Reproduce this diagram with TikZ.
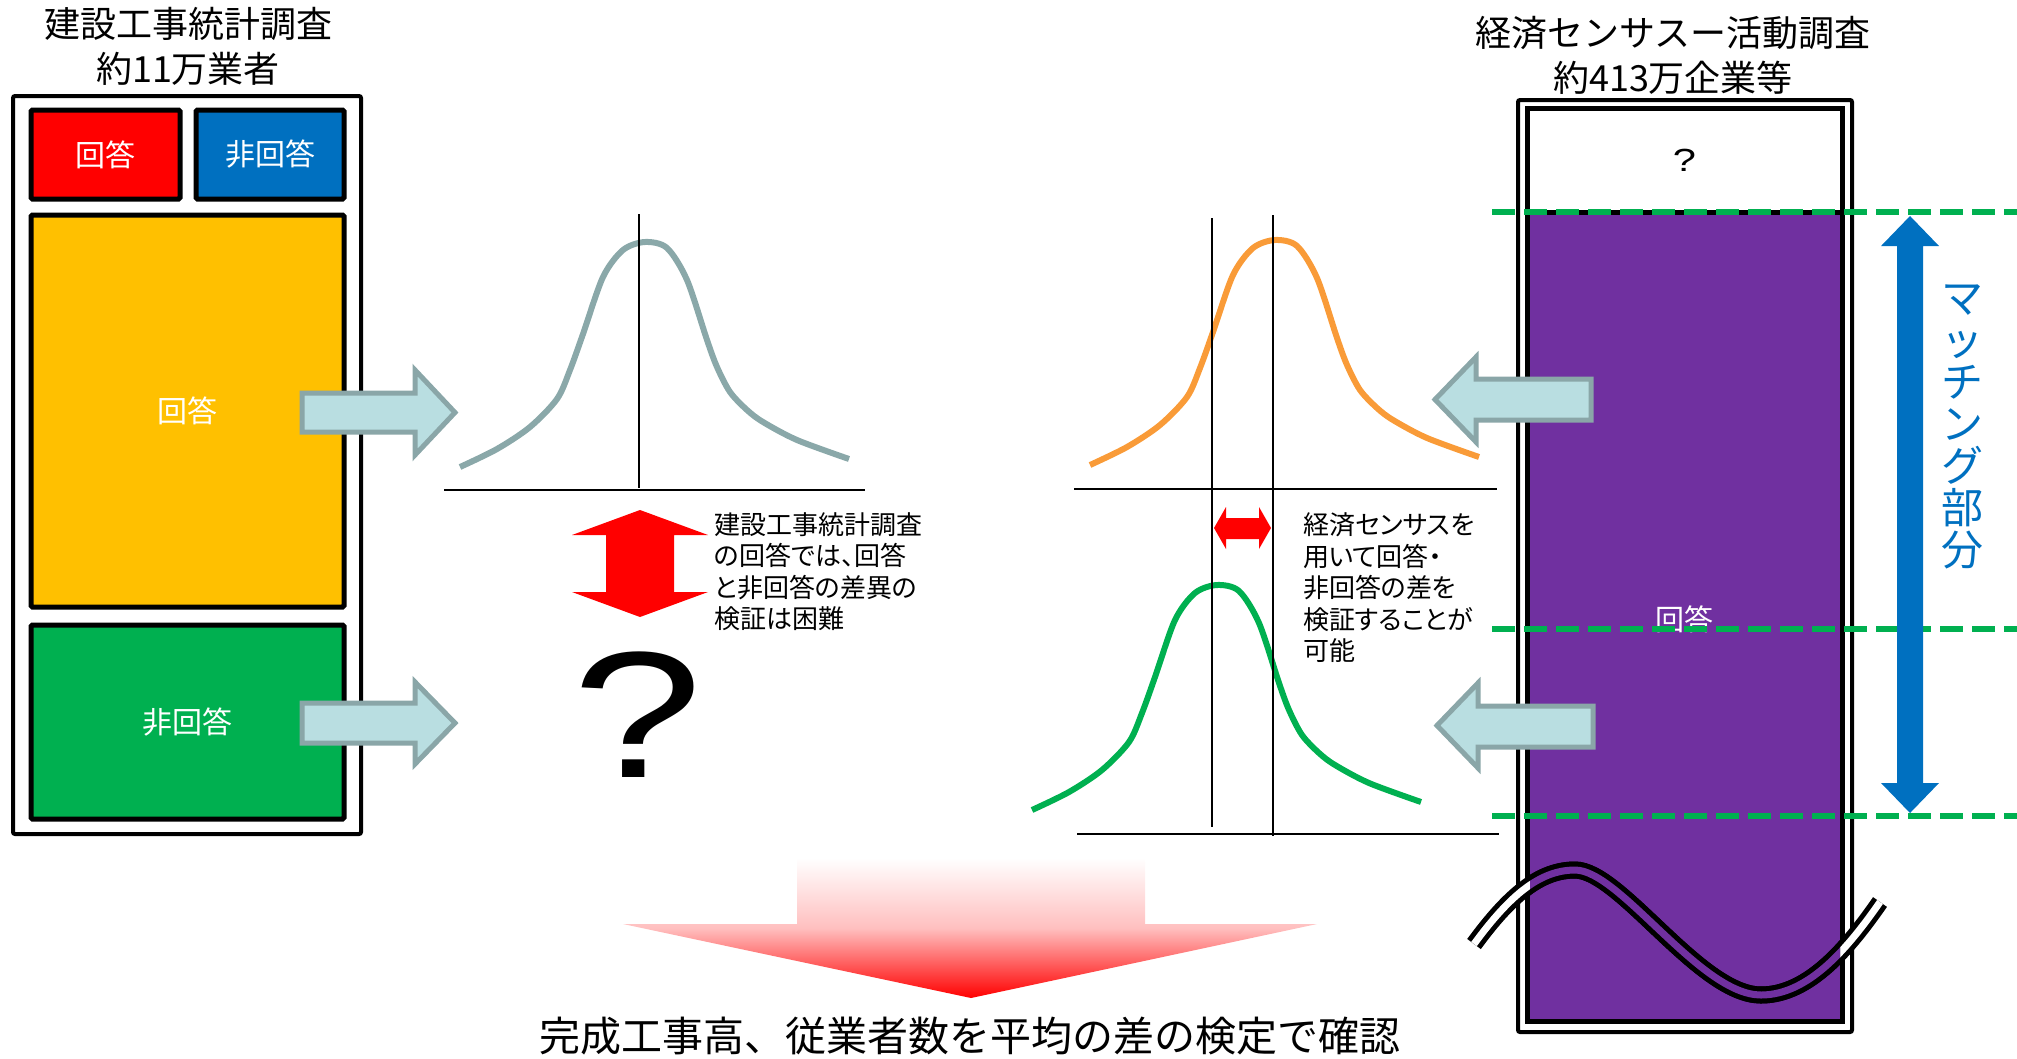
\documentclass[tikz,border=0pt]{standalone}
\usepackage{fontspec}
\setmainfont{Noto Sans CJK JP}
\newfontfamily\jpp[RawFeature={+palt}]{Noto Sans CJK JP}
\newfontfamily\lsans{Liberation Sans}
\definecolor{cred}{HTML}{FF0000}
\definecolor{cblue}{HTML}{0070C0}
\definecolor{cyellow}{HTML}{FFC000}
\definecolor{cgreen}{HTML}{00B050}
\definecolor{cpurple}{HTML}{7030A0}
\definecolor{afill}{HTML}{B9DEE1}
\definecolor{aline}{HTML}{8AA6A8}
\definecolor{corange}{HTML}{F99B38}
\definecolor{cgray}{HTML}{8AA8A9}
\tikzset{
  box/.style={draw=black, line width=5pt, rounded corners=1.5pt, text=white,
    font=\fontsize{30}{36}\selectfont, inner sep=0pt},
  larrow/.style={fill=afill, draw=aline, line width=5pt},
  axisline/.style={line width=2.5pt},
  gdash/.style={draw=cgreen, line width=6pt, dash pattern=on 23pt off 9pt},
  midtext/.style={anchor=west, align=left, inner sep=0pt, font=\jpp\fontsize{26}{31.5}\selectfont},
  title/.style={align=center, inner sep=0pt, font=\fontsize{36}{45}\selectfont},
  pics/bell/.style={code={\draw[line width=6pt,#1] plot[smooth,tension=0.5] coordinates
    {(-185,225) (-148,207) (-115,185) (-88,157) (-75,128) (-62,92) (-42,35) (-22,8) (0,0)
     (22,6) (42,38) (62,98) (72,125) (85,150) (102,168) (118,180) (152,198) (204,217)};}}
}
\begin{document}
\begin{tikzpicture}[x=1pt,y=-1pt]
\useasboundingbox (0,0) rectangle (2017,1058);

% ---------- left: construction survey ----------
\node[title] (ltitle) at (188,46) {建設工事統計調査\\約11万業者};
\draw[line width=4pt, rounded corners=2pt] (13,96) rectangle (361,834);
\node[box, fill=cred, minimum width=149pt, minimum height=89pt] (rresp) at (105.5,154.5) {回答};
\node[box, fill=cblue, minimum width=148pt, minimum height=89pt] (rnon) at (270,154.5) {非回答};
\node[box, fill=cyellow, minimum width=313pt, minimum height=392pt] (yresp) at (187.5,411) {回答};
\node[box, fill=cgreen, minimum width=313pt, minimum height=194pt] (gnon) at (187.5,722) {非回答};

\draw[larrow] (302,393) -- (415,393) -- (415,370) -- (455,412.5) -- (415,455) -- (415,432) -- (302,432) -- cycle;
\draw[larrow] (302,703) -- (415,703) -- (415,682) -- (455,723) -- (415,764) -- (415,743) -- (302,743) -- cycle;

% gray distribution
\pic at (645,242) {bell=cgray};
\draw[axisline] (444,490) -- (865,490);
\draw[line width=2pt] (639,214) -- (639,488);

% red vertical double arrow
\fill[cred] (640,510) -- (708,535) -- (674,535) -- (674,592) -- (708,592) -- (640,617)
  -- (572,592) -- (606,592) -- (606,535) -- (572,535) -- cycle;
\node[midtext] (ctext) at (714,571.5) {建設工事統計調査\\の回答では、回答\\と非回答の差異の\\検証は困難};
\node[inner sep=0pt, font=\lsans\fontsize{180}{180}\selectfont] (qm) at (638,715) {\scalebox{1.3}[1]{?}};

% ---------- middle right: census distributions ----------
\pic at (1275,240) {bell=corange};
\pic at (1217,585) {bell=cgreen};
\draw[axisline] (1074,489) -- (1497,489);
\draw[axisline] (1077,834) -- (1499,834);
\draw[line width=1.5pt] (1212,218) -- (1212,827);
\draw[line width=2pt] (1273,215) -- (1273,836);
\fill[cred] (1214,528) -- (1226,507) -- (1226,518) -- (1259,518) -- (1259,507) -- (1271,528)
  -- (1259,549) -- (1259,539) -- (1226,539) -- (1226,549) -- cycle;
\node[midtext] (etext) at (1303,588) {経済センサスを\\用いて回答・\\非回答の差を\\検証することが\\可能};

% ---------- right: economic census ----------
\node[title] (rtitle) at (1673,55) {経済センサスー活動調査\\約413万企業等};
\draw[line width=4pt, rounded corners=2pt] (1518,100) rectangle (1852,1032);
\node[draw=black, line width=5pt, fill=white, minimum width=315pt, minimum height=104pt, inner sep=0pt,
  font=\lsans\fontsize{32}{36}\selectfont] (qbox) at (1684.5,160) {\scalebox{1.3}[1]{?}};
\node[box, fill=cpurple, minimum width=315pt, minimum height=809pt, rounded corners=0pt] (pbox) at (1684.5,616.5) {};
\node[text=white, inner sep=0pt, font=\fontsize{29}{34}\selectfont] (plabel) at (1684,619) {回答};

\draw[gdash] (1492,212) -- (2017,212);
\draw[gdash] (1492,629) -- (2017,629);
\draw[gdash] (1492,816) -- (2017,816);

% wavy break mark
\draw[line width=5pt, double=white, double distance=7pt]
  (1474,944) .. controls (1510,895) and (1540,870) .. (1575,870)
  .. controls (1620,870) and (1700,995) .. (1761,995)
  .. controls (1810,995) and (1850,945) .. (1880,902);
\begin{scope}
  \clip (1530,214) rectangle (1840,1019);
  \draw[line width=5pt, double=cpurple, double distance=7pt]
    (1474,944) .. controls (1510,895) and (1540,870) .. (1575,870)
    .. controls (1620,870) and (1700,995) .. (1761,995)
    .. controls (1810,995) and (1850,945) .. (1880,902);
\end{scope}

\draw[larrow] (1591,379) -- (1476,379) -- (1476,357) -- (1435,399.5) -- (1476,442) -- (1476,420) -- (1591,420) -- cycle;
\draw[larrow] (1593,706) -- (1478,706) -- (1478,683) -- (1437,725.5) -- (1478,768) -- (1478,747) -- (1593,747) -- cycle;

% blue matching arrow
\fill[cblue] (1910,216) -- (1939,246) -- (1923,246) -- (1923,783) -- (1939,783) -- (1910,813)
  -- (1881,783) -- (1897,783) -- (1897,246) -- (1881,246) -- cycle;
\node[text=cblue, align=center, inner sep=0pt, font=\fontsize{42}{42}\selectfont] (match) at (1962,427)
  {マ\\ッ\\チ\\ン\\グ\\部\\分};

% ---------- bottom gradient arrow ----------
\shade[top color=white, bottom color=cred, middle color=cred!25]
  (797,858) -- (1145,858) -- (1145,924) -- (1317,924) -- (971,998) -- (623,924) -- (797,924) -- cycle;
\node[inner sep=0pt, font=\fontsize{41}{46}\selectfont] (concl) at (970,1036)
  {完成工事高、従業者数を平均の差の検定で確認};
\end{tikzpicture}
\end{document}
